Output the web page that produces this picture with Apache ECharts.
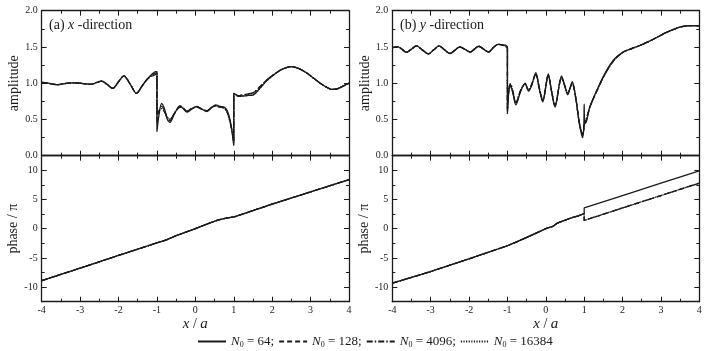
<!DOCTYPE html>
<html>
<head>
<meta charset="utf-8">
<script src="https://cdn.jsdelivr.net/npm/echarts@6/dist/echarts.min.js"></script>
<style>
  html, body { margin: 0; background: #fff; }
  #chart { width: 713px; height: 351px; }
</style>
</head>
<body>
<div id="chart"></div>
<script>
// 图例名称与刻度
const N0_VALUES = ["64", "128", "4096", "16384"];
const X_TICKS = [-4, -3, -2, -1, 0, 1, 2, 3, 4];
const AMP_TICKS = [0, 0.5, 1, 1.5, 2];
const PHASE_TICKS = [-10, -5, 0, 5, 10];
const PHASE_MINOR = [-7.5, -2.5, 2.5, 7.5];

// (a) x-direction 振幅：[x/a, amplitude]
const ampA_left = [[-4, 1.01], [-3.83, 1.0], [-3.61, 0.98], [-3.4, 0.995], [-3.2, 1.005], [-3.0, 1.0],
  [-2.85, 0.99], [-2.7, 0.985], [-2.57, 1.01], [-2.44, 1.03], [-2.3, 0.985], [-2.15, 0.93], [-2.0, 1.02],
  [-1.86, 1.1], [-1.7, 0.99], [-1.53, 0.86], [-1.4, 0.95], [-1.27, 1.045]];
const ampA_mid64 = [[-1.12, 1.13], [-1.03, 1.16], [-1.0, 1.16], [-1.0, 0.33], [-0.95, 0.55], [-0.88, 0.72],
  [-0.8, 0.64], [-0.73, 0.5], [-0.66, 0.46], [-0.55, 0.57], [-0.4, 0.69], [-0.3, 0.64], [-0.22, 0.6],
  [-0.1, 0.64], [0.03, 0.68], [0.15, 0.65], [0.3, 0.61], [0.42, 0.66], [0.53, 0.7], [0.65, 0.68],
  [0.75, 0.67], [0.83, 0.62], [0.9, 0.5], [0.95, 0.35], [1.0, 0.14]];
const ampA_mid128 = [[-1.12, 1.1], [-1.03, 1.12], [-1.0, 1.13], [-1.0, 0.45], [-0.95, 0.6], [-0.88, 0.68],
  [-0.8, 0.62], [-0.73, 0.52], [-0.66, 0.48], [-0.55, 0.58], [-0.4, 0.68], [-0.3, 0.645], [-0.22, 0.61],
  [-0.1, 0.645], [0.03, 0.675], [0.15, 0.65], [0.3, 0.62], [0.42, 0.665], [0.53, 0.69], [0.65, 0.67],
  [0.75, 0.66], [0.83, 0.6], [0.9, 0.48], [0.95, 0.36], [1.0, 0.2]];
const ampA_midHigh = [[-1.12, 1.11], [-1.03, 1.14], [-1.0, 1.14], [-1.0, 0.56], [-0.95, 0.62], [-0.88, 0.65],
  [-0.8, 0.6], [-0.73, 0.53], [-0.66, 0.5], [-0.55, 0.58], [-0.4, 0.67], [-0.3, 0.65], [-0.22, 0.615],
  [-0.1, 0.65], [0.03, 0.67], [0.15, 0.645], [0.3, 0.62], [0.42, 0.665], [0.53, 0.685], [0.65, 0.67],
  [0.75, 0.655], [0.83, 0.6], [0.9, 0.47], [0.95, 0.35], [1.0, 0.18]];
const ampA_near64 = [[1.0, 0.86], [1.16, 0.82], [1.35, 0.83], [1.51, 0.84], [1.68, 0.93], [1.85, 1.03], [2.03, 1.11]];
const ampA_nearAlt = [[1.0, 0.81], [1.16, 0.83], [1.35, 0.85], [1.51, 0.87], [1.68, 0.95], [1.85, 1.04], [2.03, 1.115]];
const ampA_tail = [[2.25, 1.19], [2.51, 1.23], [2.7, 1.2], [2.9, 1.14], [3.1, 1.06], [3.25, 1.0], [3.4, 0.95],
  [3.55, 0.915], [3.68, 0.92], [3.81, 0.95], [4.0, 1.0]];

// (b) y-direction 振幅
const ampB_left = [[-4, 1.49], [-3.85, 1.5], [-3.75, 1.47], [-3.63, 1.425], [-3.5, 1.47], [-3.37, 1.515],
  [-3.22, 1.46], [-3.06, 1.405], [-2.92, 1.46], [-2.78, 1.515], [-2.64, 1.46], [-2.5, 1.41], [-2.37, 1.455],
  [-2.24, 1.5], [-2.1, 1.465], [-1.97, 1.43], [-1.86, 1.47], [-1.75, 1.51], [-1.62, 1.47], [-1.49, 1.43],
  [-1.37, 1.49], [-1.24, 1.535]];
const ampB_mid64 = [[-1.1, 1.53], [-1.03, 1.52], [-1.0, 1.5], [-1.0, 0.575], [-0.96, 0.9], [-0.92, 0.96],
  [-0.85, 0.84], [-0.78, 0.7], [-0.66, 0.88], [-0.54, 1.0], [-0.45, 0.89], [-0.38, 0.95], [-0.26, 1.145],
  [-0.17, 0.92], [-0.08, 0.74], [0.065, 1.13], [0.15, 0.88], [0.24, 0.67], [0.41, 1.1], [0.5, 0.95],
  [0.57, 0.84], [0.69, 1.02], [0.78, 0.8], [0.87, 0.45], [0.935, 0.285], [0.96, 0.25], [0.99, 0.4],
  [1.0, 0.71], [1.01, 0.5], [1.04, 0.45], [1.15, 0.68], [1.37, 0.95], [1.59, 1.18], [1.8, 1.34]];
const ampB_mid128 = [[-1.1, 1.52], [-1.03, 1.5], [-1.0, 1.48], [-1.0, 0.62], [-0.96, 0.92], [-0.92, 0.98],
  [-0.85, 0.86], [-0.78, 0.72], [-0.66, 0.89], [-0.54, 0.99], [-0.45, 0.9], [-0.38, 0.96], [-0.26, 1.13],
  [-0.17, 0.93], [-0.08, 0.76], [0.065, 1.11], [0.15, 0.89], [0.24, 0.69], [0.41, 1.08], [0.5, 0.95],
  [0.57, 0.86], [0.69, 1.0], [0.78, 0.8], [0.87, 0.46], [0.935, 0.31], [0.96, 0.28], [0.99, 0.36],
  [1.0, 0.45], [1.04, 0.47], [1.15, 0.67], [1.37, 0.94], [1.59, 1.17], [1.8, 1.33]];
const ampB_midHigh = [[-1.1, 1.52], [-1.03, 1.5], [-1.0, 1.49], [-1.0, 0.64], [-0.96, 0.93], [-0.92, 0.99],
  [-0.85, 0.87], [-0.78, 0.73], [-0.66, 0.9], [-0.54, 0.99], [-0.45, 0.91], [-0.38, 0.97], [-0.26, 1.12],
  [-0.17, 0.94], [-0.08, 0.77], [0.065, 1.1], [0.15, 0.9], [0.24, 0.7], [0.41, 1.07], [0.5, 0.96],
  [0.57, 0.87], [0.69, 0.99], [0.78, 0.79], [0.87, 0.47], [0.935, 0.32], [0.96, 0.3], [0.99, 0.35],
  [1.0, 0.42], [1.04, 0.48], [1.15, 0.67], [1.37, 0.94], [1.59, 1.17], [1.8, 1.33]];
const ampB_tail = [[2.02, 1.43], [2.25, 1.48], [2.45, 1.52], [2.7, 1.58], [2.89, 1.63], [3.1, 1.69],
  [3.32, 1.74], [3.5, 1.775], [3.67, 1.79], [3.85, 1.795], [4.0, 1.79]];

// 相位 / π
const phaseA = [[-4, -8.9], [-3, -6.76], [-2, -4.58], [-1, -2.43], [-0.75, -1.9], [-0.5, -1.2], [-0.25, -0.6],
  [0, 0], [0.3, 0.8], [0.6, 1.5], [0.8, 1.8], [0.97, 2.0], [1.0, 2.15], [1.03, 2.05], [2, 4.22], [3, 6.3], [4, 8.4]];
const phaseB_common = [[-4, -9.34], [-3, -7.33], [-2, -5.16], [-1, -2.92], [-0.85, -2.5], [-0.6, -1.8],
  [-0.3, -0.9], [-0.15, -0.45], [0, 0], [0.2, 0.45], [0.3, 0.97], [0.5, 1.45], [0.65, 1.83], [0.85, 2.2], [1.0, 2.6]];
const phaseB_upper = [[1.0, 3.55], [2, 5.67], [3, 7.8], [4, 9.9]];
const phaseB_lower = [[1.0, 1.42], [2, 3.55], [3, 5.68], [4, 7.8]];

const FONT = '"Liberation Serif", "DejaVu Serif", serif';
const INK = "#1a1a1a";
const LINE_TYPES = ["solid", [5, 3], [6, 2, 1.5, 2], [1.2, 1.4]];

const grids = [
  { left: 41.7, top: 10.7, width: 307.3, height: 145 },
  { left: 41.7, top: 155.7, width: 307.3, height: 146 },
  { left: 392.3, top: 10.7, width: 307, height: 145 },
  { left: 392.3, top: 155.7, width: 307, height: 146 },
];

const xAxes = [];
const yAxes = [];
const tickLine = { color: INK, width: 1 };
const frameLine = { show: true, onZero: false, lineStyle: { color: INK, width: 1.3 } };
const labelFont = { color: INK, fontFamily: FONT, fontSize: 10 };
const nameFont = { color: INK, fontFamily: FONT, fontSize: 14, rich: { i: { fontStyle: "italic", fontFamily: FONT, fontSize: 15, color: INK } } };

function addX(gridIndex, position, withLabels) {
  xAxes.push({
    type: "value", gridIndex, position, min: -4, max: 4, interval: 1,
    axisLine: frameLine,
    axisTick: { show: true, inside: true, length: 5, lineStyle: tickLine },
    minorTick: { show: true, splitNumber: 2, length: 3, lineStyle: tickLine },
    splitLine: { show: false },
    axisLabel: { show: withLabels, customValues: X_TICKS, margin: 4, ...labelFont },
    name: withLabels ? "{i|x} / {i|a}" : "", nameLocation: "middle", nameGap: 15,
    nameTextStyle: nameFont,
  });
  return xAxes.length - 1;
}

function addAmpY(gridIndex, position) {
  const left = position === "left";
  yAxes.push({
    type: "value", gridIndex, position, min: 0, max: 2, interval: 0.5,
    axisLine: frameLine,
    axisTick: { show: true, inside: true, length: 5, lineStyle: tickLine },
    minorTick: { show: true, splitNumber: 2, length: 3, lineStyle: tickLine },
    splitLine: { show: false },
    axisLabel: { show: left, customValues: AMP_TICKS, margin: 4, formatter: (v) => v.toFixed(1), ...labelFont },
    name: left ? "amplitude" : "", nameLocation: "middle", nameGap: 20, nameTextStyle: nameFont,
  });
  return yAxes.length - 1;
}

function addPhaseY(gridIndex, position) {
  const left = position === "left";
  yAxes.push({
    type: "value", gridIndex, position, min: -12.5, max: 12.5,
    axisLine: frameLine,
    axisTick: { show: true, inside: true, length: 5, lineStyle: tickLine, customValues: PHASE_TICKS },
    splitLine: { show: false },
    axisLabel: { show: left, customValues: PHASE_TICKS, margin: 4, ...labelFont },
    name: left ? "phase / π" : "", nameLocation: "middle", nameGap: 19, nameTextStyle: nameFont,
  });
  const major = yAxes.length - 1;
  // 次刻度用一条隐藏轴线的叠加轴画出
  yAxes.push({
    type: "value", gridIndex, position, min: -12.5, max: 12.5,
    axisLine: { show: false, onZero: false },
    axisTick: { show: true, inside: true, length: 3, lineStyle: tickLine, customValues: PHASE_MINOR },
    splitLine: { show: false },
    axisLabel: { show: false },
  });
  return major;
}

const series = [];
function addLine(k, data, xi, yi, smooth) {
  series.push({
    type: "line", name: N0_VALUES[k], data, xAxisIndex: xi, yAxisIndex: yi,
    symbol: "none", showSymbol: false, smooth, animation: false,
    lineStyle: { color: INK, width: 1.3, type: LINE_TYPES[k] },
    itemStyle: { color: INK },
  });
}

// (a) 振幅
let xi = addX(0, "bottom", false); addX(0, "top", false);
let yi = addAmpY(0, "left"); addAmpY(0, "right");
addLine(0, [...ampA_left, ...ampA_mid64, ...ampA_near64, ...ampA_tail], xi, yi, 0.3);
addLine(1, [...ampA_left, ...ampA_mid128, ...ampA_nearAlt, ...ampA_tail], xi, yi, 0.3);
addLine(2, [...ampA_left, ...ampA_midHigh, ...ampA_nearAlt, ...ampA_tail], xi, yi, 0.3);
addLine(3, [...ampA_left, ...ampA_midHigh, ...ampA_near64, ...ampA_tail], xi, yi, 0.3);

// (a) 相位
xi = addX(1, "bottom", true); addX(1, "top", false);
yi = addPhaseY(1, "left"); addPhaseY(1, "right");
for (let k = 0; k < 4; k++) addLine(k, phaseA, xi, yi, false);

// (b) 振幅
xi = addX(2, "bottom", false); addX(2, "top", false);
yi = addAmpY(2, "left"); addAmpY(2, "right");
addLine(0, [...ampB_left, ...ampB_mid64, ...ampB_tail], xi, yi, 0.3);
addLine(1, [...ampB_left, ...ampB_mid128, ...ampB_tail], xi, yi, 0.3);
addLine(2, [...ampB_left, ...ampB_midHigh, ...ampB_tail], xi, yi, 0.3);
addLine(3, [...ampB_left, ...ampB_midHigh, ...ampB_tail], xi, yi, 0.3);

// (b) 相位
xi = addX(3, "bottom", true); addX(3, "top", false);
yi = addPhaseY(3, "left"); addPhaseY(3, "right");
addLine(0, [...phaseB_common, ...phaseB_upper], xi, yi, false);
for (let k = 1; k < 4; k++) addLine(k, [...phaseB_common, ...phaseB_lower], xi, yi, false);

const panelText = (left, label, axis) => ({
  type: "text", left, top: 18, z: 10,
  style: {
    text: label + " {i|" + axis + "} -direction",
    fontFamily: FONT, fontSize: 14, fill: INK,
    rich: { i: { fontStyle: "italic", fontFamily: FONT, fontSize: 14, fill: INK } },
  },
});

const chart = echarts.init(document.getElementById("chart"), null, { renderer: "canvas" });
chart.setOption({
  backgroundColor: "#fff",
  animation: false,
  grid: grids,
  xAxis: xAxes,
  yAxis: yAxes,
  series,
  legend: {
    data: N0_VALUES, left: 192, top: 330, itemWidth: 28, itemHeight: 10, itemGap: 4,
    itemStyle: { color: "transparent", borderWidth: 0, opacity: 0 },
    textStyle: {
      fontFamily: FONT, fontSize: 13, color: INK,
      rich: {
        i: { fontStyle: "italic", fontFamily: FONT, fontSize: 13, color: INK },
        s: { fontFamily: FONT, fontSize: 8, color: INK, padding: [6, 0, 0, 0] },
        t: { fontFamily: FONT, fontSize: 13, color: INK },
      },
    },
    formatter: (n) => "{i|N}{s|0}{t| = " + n + (n === "16384" ? "" : ";") + "}",
  },
  graphic: [panelText(49, "(a)", "x"), panelText(400, "(b)", "y")],
});
</script>
</body>
</html>
